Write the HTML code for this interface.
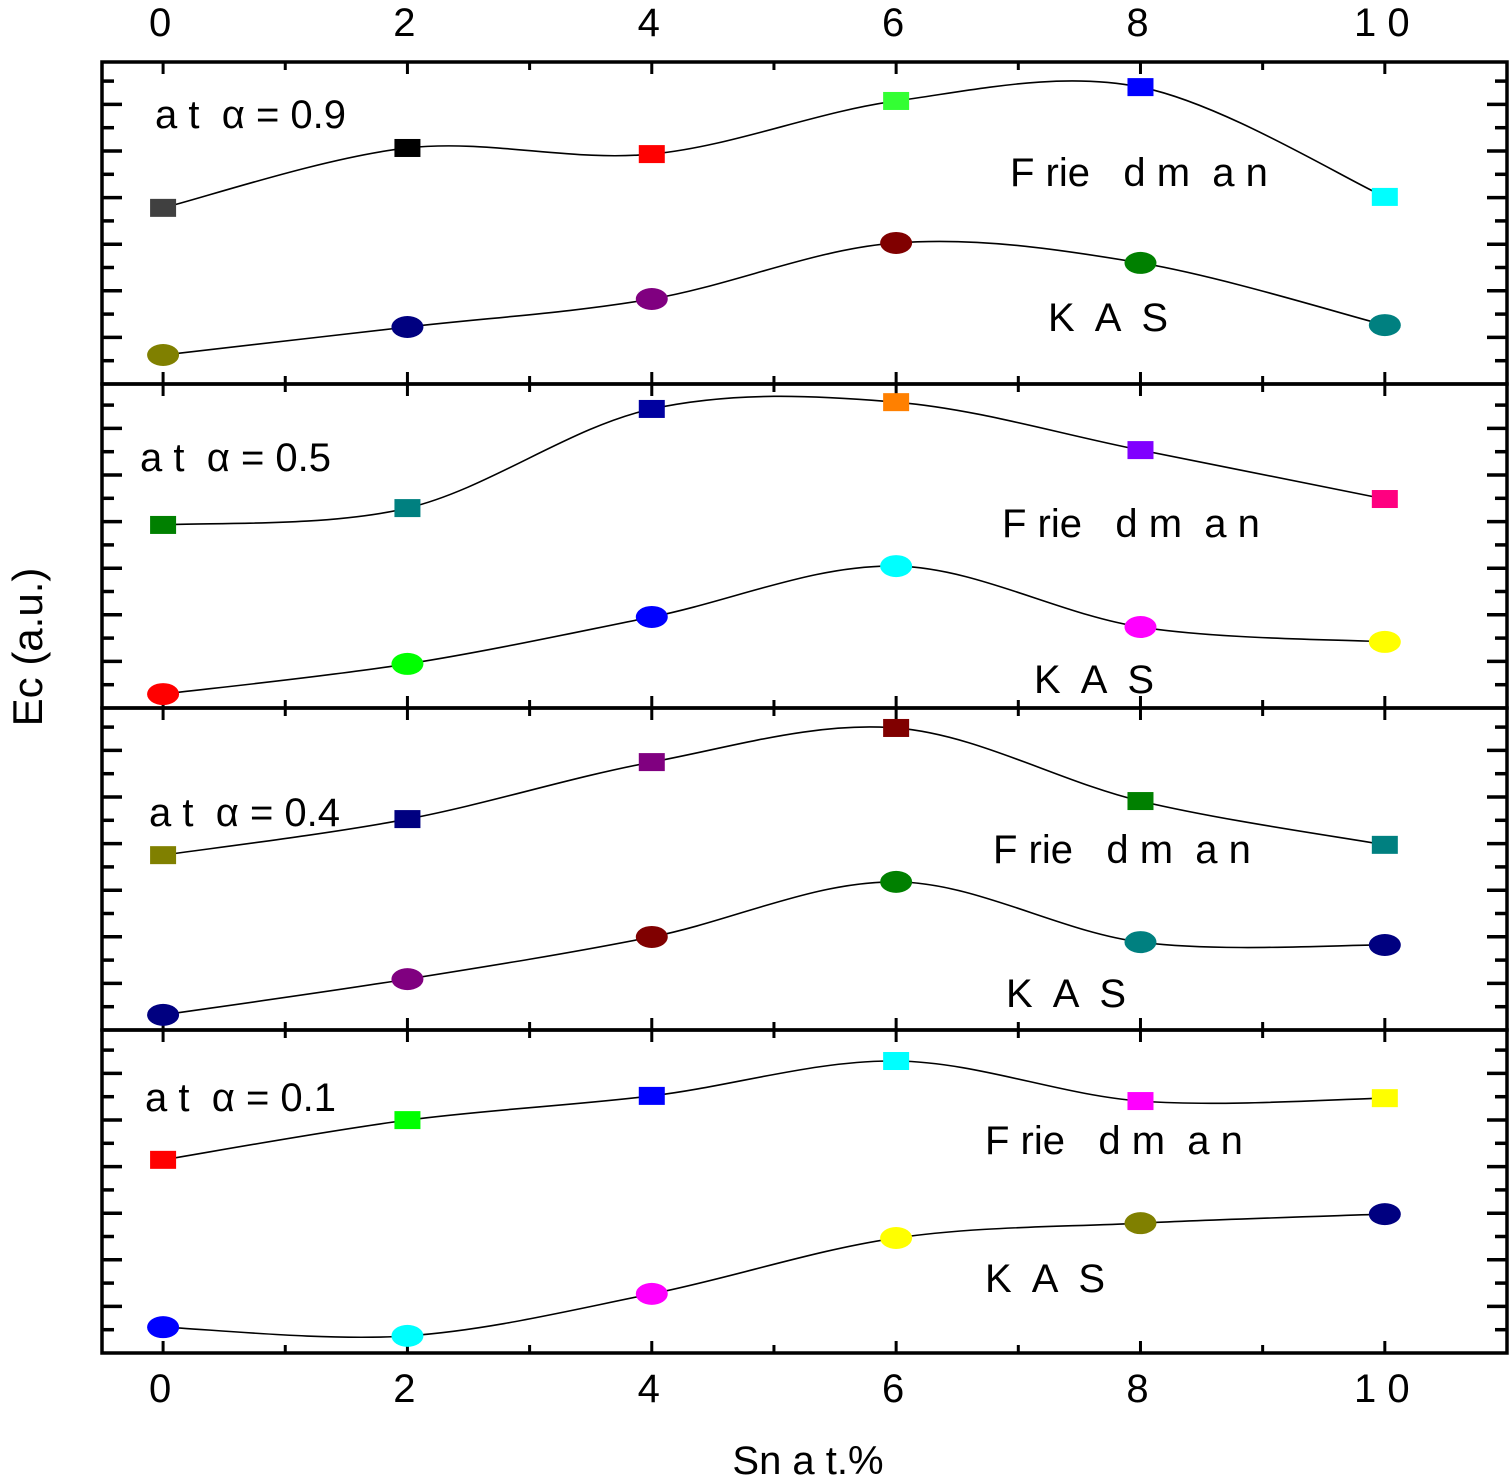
<!DOCTYPE html>
<html><head><meta charset="utf-8"><style>
html,body{margin:0;padding:0;background:#fff;}
svg{display:block;font-family:"Liberation Sans",Arial,sans-serif;}
text{white-space:pre;}
</style></head><body>
<svg id="chart" width="1509" height="1484" viewBox="0 0 1509 1484" xmlns="http://www.w3.org/2000/svg" xml:space="preserve"></svg>
<script>
const xCategories = [0, 2, 4, 6, 8, 10];
const xTickLabels = ["0", "2", "4", "6", "8", "1 0"];
const panelLabels = ["a t  α = 0.9", "a t  α = 0.5", "a t  α = 0.4", "a t  α = 0.1"];
const friedman09 = [5.47, 7.33, 7.14, 8.79, 9.22, 5.81];
const kas09 = [0.90, 1.77, 2.64, 4.38, 3.76, 1.83];
const friedman05 = [5.65, 6.17, 9.23, 9.44, 7.96, 6.45];
const kas05 = [0.43, 1.36, 2.81, 4.38, 2.50, 2.04];
const friedman04 = [5.43, 6.55, 8.32, 9.38, 7.11, 5.75];
const kas04 = [0.47, 1.58, 2.89, 4.60, 2.73, 2.64];
const friedman01 = [5.98, 7.21, 7.96, 9.04, 7.80, 7.89];
const kas01 = [0.80, 0.53, 1.83, 3.56, 4.02, 4.30];
const fColors09 = ["#404040","#000000","#ff0000","#33ff33","#0000ff","#00ffff"];
const kColors09 = ["#808000","#000080","#800080","#800000","#008000","#008080"];
const fColors05 = ["#008000","#008080","#0000a0","#ff8000","#8000ff","#ff0080"];
const kColors05 = ["#ff0000","#00ff00","#0000ff","#00ffff","#ff00ff","#ffff00"];
const fColors04 = ["#808000","#000080","#800080","#800000","#008000","#008080"];
const kColors04 = ["#000080","#800080","#800000","#008000","#008080","#000080"];
const fColors01 = ["#ff0000","#00ff00","#0000ff","#00ffff","#ff00ff","#ffff00"];
const kColors01 = ["#0000ff","#00ffff","#ff00ff","#ffff00","#808000","#000080"];

const NS = "http://www.w3.org/2000/svg";
const svg = document.getElementById("chart");
function mk(tag, attrs, parent){const e=document.createElementNS(NS,tag);for(const k in attrs)e.setAttribute(k,attrs[k]);(parent||svg).appendChild(e);return e;}
const X0=102, X1=1507, xmin=-0.5, xmax=11;
function xs(v){return X0+(v-xmin)/(xmax-xmin)*(X1-X0);}
const panels=[
 {top:62,bot:384,f:friedman09,k:kas09,fc:fColors09,kc:kColors09,lab:[155,128],fr:[1010,186],ka:[1048,331],name:"alpha-0-9"},
 {top:384,bot:708,f:friedman05,k:kas05,fc:fColors05,kc:kColors05,lab:[140,471],fr:[1002,537],ka:[1034,693],name:"alpha-0-5"},
 {top:708,bot:1030,f:friedman04,k:kas04,fc:fColors04,kc:kColors04,lab:[149,826],fr:[993,863],ka:[1006,1007],name:"alpha-0-4"},
 {top:1030,bot:1353,f:friedman01,k:kas01,fc:fColors01,kc:kColors01,lab:[145,1111],fr:[985,1154],ka:[985,1292],name:"alpha-0-1"}
];
function pathFor(pts){
  let d="M"+pts[0][0]+","+pts[0][1];
  for(let i=0;i<pts.length-1;i++){
    const p0=pts[Math.max(0,i-1)],p1=pts[i],p2=pts[i+1],p3=pts[Math.min(pts.length-1,i+2)];
    const c1=[p1[0]+(p2[0]-p0[0])/6,p1[1]+(p2[1]-p0[1])/6];
    const c2=[p2[0]-(p3[0]-p1[0])/6,p2[1]-(p3[1]-p1[1])/6];
    d+=" C"+c1[0]+","+c1[1]+" "+c2[0]+","+c2[1]+" "+p2[0]+","+p2[1];
  }
  return d;
}
panels.forEach((p,pi)=>{
  const g=mk("g",{});
  
  
  const ys=v=>p.bot-v/10*(p.bot-p.top);
  let n=0;
  for(let y=p.bot-23.3;y>p.top+8;y-=23.3){
    const len=(n%2===0)?12:20;
    mk("line",{x1:X0,x2:X0+len,y1:y,y2:y,stroke:"#000","stroke-width":3.5},g);
    mk("line",{x1:X1,x2:X1-len,y1:y,y2:y,stroke:"#000","stroke-width":3.5},g);
    n++;
  }
  for(let v=0;v<=11;v++){
    const len=(v%2===0)?12:8;
    mk("line",{x1:xs(v),x2:xs(v),y1:p.bot,y2:p.bot-len,stroke:"#000","stroke-width":3},g);
    mk("line",{x1:xs(v),x2:xs(v),y1:p.top,y2:p.top+len,stroke:"#000","stroke-width":3},g);
  }
  mk("rect",{x:X0,y:p.top,width:X1-X0,height:p.bot-p.top,fill:"none",stroke:"#000","stroke-width":3.5},g);
  const fp=xCategories.map((c,i)=>[xs(c),ys(p.f[i])]);
  const kp=xCategories.map((c,i)=>[xs(c),ys(p.k[i])]);
  const fl=mk("path",{d:pathFor(fp),fill:"none",stroke:"#000","stroke-width":1.6},g);
  
  
  const kl=mk("path",{d:pathFor(kp),fill:"none",stroke:"#000","stroke-width":1.6},g);
  
  
  fp.forEach((q,i)=>{
    const r=mk("rect",{x:q[0]-13,y:q[1]-9,width:26,height:18,fill:p.fc[i]},g);
    
    
  });
  kp.forEach((q,i)=>{
    const e=mk("ellipse",{cx:q[0],cy:q[1],rx:16,ry:11,fill:p.kc[i]},g);
    
    
  });
  const t1=mk("text",{x:p.lab[0],y:p.lab[1],"font-size":40},g);t1.textContent=panelLabels[pi];
  
  
  const t2=mk("text",{x:p.fr[0],y:p.fr[1],"font-size":40},g);t2.textContent="F rie   d m  a n";
  
  
  const t3=mk("text",{x:p.ka[0],y:p.ka[1],"font-size":40},g);t3.textContent="K  A  S";
  
  
});
xCategories.forEach((c,i)=>{
  const a=mk("text",{x:xs(c)-3,y:36,"font-size":40,"text-anchor":"middle"});a.textContent=xTickLabels[i];
  
  
  const b=mk("text",{x:xs(c)-3,y:1402,"font-size":40,"text-anchor":"middle"});b.textContent=xTickLabels[i];
  
  
});
const xt=mk("text",{x:808,y:1474,"font-size":40,"text-anchor":"middle"});xt.textContent="Sn a t.%";


const yt=mk("text",{x:0,y:0,"font-size":42,"text-anchor":"middle",transform:"translate(42,647) rotate(-90)"});yt.textContent="Ec (a.u.)";


</script>
</body></html>
